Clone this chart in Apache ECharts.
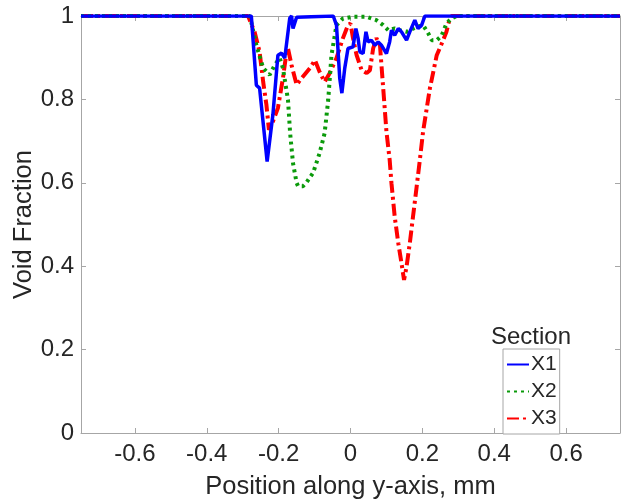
<!DOCTYPE html>
<html>
<head>
<meta charset="utf-8">
<script src="https://cdn.jsdelivr.net/npm/echarts@6/dist/echarts.min.js"></script>
<style>html,body{margin:0;padding:0;background:#fff;}#c{width:626px;height:501px;}</style>
</head>
<body>
<div id="c"></div>
<script>
const xTicks = [-0.6, -0.4, -0.2, 0, 0.2, 0.4, 0.6];
const yTicks = [0, 0.2, 0.4, 0.6, 0.8, 1];
const seriesNames = ['X1', 'X2', 'X3'];
const legendTitle = 'Section';
const xTitle = 'Position along y-axis, mm';
const yTitle = 'Void Fraction';

const x1 = [[-0.75,1],[-0.276,1],[-0.262,0.834],[-0.253,0.827],[-0.232,0.651],[-0.216,0.763],[-0.202,0.906],[-0.192,0.911],[-0.183,0.899],[-0.169,0.995],[-0.164,1],[-0.160,0.97],[-0.150,0.997],[-0.145,1],[-0.048,1],[-0.039,0.978],[-0.030,0.851],[-0.024,0.815],[-0.016,0.875],[-0.007,0.922],[0.007,0.926],[0.015,0.97],[0.021,0.947],[0.026,0.914],[0.035,0.91],[0.043,0.962],[0.049,0.938],[0.058,0.942],[0.068,0.93],[0.077,0.938],[0.086,0.93],[0.100,0.91],[0.109,0.938],[0.114,0.966],[0.123,0.954],[0.133,0.97],[0.142,0.962],[0.156,0.942],[0.165,0.962],[0.179,0.99],[0.188,0.97],[0.198,0.978],[0.207,1],[0.75,1]];

const x2 = [[-0.75,1],[-0.280,1],[-0.262,0.930],[-0.243,0.875],[-0.225,0.859],[-0.211,0.882],[-0.197,0.899],[-0.188,0.875],[-0.174,0.799],[-0.168,0.719],[-0.160,0.647],[-0.150,0.600],[-0.146,0.592],[-0.132,0.592],[-0.123,0.600],[-0.104,0.624],[-0.086,0.671],[-0.072,0.719],[-0.062,0.799],[-0.053,0.906],[-0.039,0.978],[-0.021,0.994],[0.007,0.998],[0.045,0.998],[0.072,0.990],[0.091,0.978],[0.105,0.966],[0.123,0.970],[0.137,0.966],[0.156,0.962],[0.184,0.974],[0.202,0.978],[0.216,0.959],[0.226,0.942],[0.240,0.942],[0.253,0.952],[0.267,0.982],[0.281,0.994],[0.295,1],[0.75,1]];

const x3 = [[-0.75,1],[-0.285,1],[-0.267,0.962],[-0.253,0.914],[-0.243,0.842],[-0.234,0.787],[-0.227,0.727],[-0.216,0.747],[-0.202,0.779],[-0.188,0.851],[-0.178,0.914],[-0.174,0.922],[-0.164,0.882],[-0.150,0.835],[-0.136,0.851],[-0.113,0.875],[-0.099,0.894],[-0.086,0.866],[-0.072,0.842],[-0.058,0.863],[-0.039,0.899],[-0.021,0.947],[-0.007,0.978],[0.000,0.982],[0.007,0.947],[0.017,0.906],[0.031,0.870],[0.045,0.863],[0.054,0.870],[0.063,0.922],[0.072,0.947],[0.082,0.930],[0.091,0.827],[0.100,0.723],[0.109,0.655],[0.114,0.599],[0.123,0.519],[0.133,0.455],[0.142,0.407],[0.149,0.367],[0.156,0.399],[0.165,0.455],[0.174,0.519],[0.184,0.590],[0.193,0.655],[0.202,0.723],[0.221,0.827],[0.240,0.906],[0.258,0.942],[0.267,0.962],[0.275,0.990],[0.281,1],[0.75,1]];

const FONT = 'Liberation Sans, Arial, sans-serif';
const AX = '#a6a6a6';
const TXT = '#262626';

const chart = echarts.init(document.getElementById('c'), null, {renderer: 'canvas'});

function xAx(pos, main) {
  return {
    type: 'value', position: pos, min: -0.75, max: 0.75,
    axisLine: {show: true, onZero: false, lineStyle: {color: AX, width: 1}},
    axisTick: {show: true, inside: true, length: 5, customValues: xTicks, lineStyle: {color: AX}},
    axisLabel: {show: main, customValues: xTicks, margin: 9, fontFamily: FONT, fontSize: 24, color: TXT,
      formatter: v => String(Math.round(v * 10) / 10)},
    splitLine: {show: false},
    name: main ? xTitle : '', nameLocation: 'middle', nameGap: 41, nameMoveOverlap: false,
    nameTextStyle: {fontFamily: FONT, fontSize: 25.5, color: TXT}
  };
}
function yAx(pos, main) {
  return {
    type: 'value', position: pos, min: 0, max: 1, interval: 0.2,
    axisLine: {show: true, onZero: false, lineStyle: {color: AX, width: 1}},
    axisTick: {show: true, inside: true, length: 5, lineStyle: {color: AX}},
    axisLabel: {show: main, margin: 7, fontFamily: FONT, fontSize: 24, color: TXT,
      formatter: v => String(Math.round(v * 10) / 10)},
    splitLine: {show: false},
    name: main ? yTitle : '', nameLocation: 'middle', nameGap: 44, nameMoveOverlap: false,
    nameTextStyle: {fontFamily: FONT, fontSize: 25.5, color: TXT}
  };
}

const styles = [
  {color: '#0000ff', width: 3.5, type: 'solid'},
  {color: '#0a9a0a', width: 4, type: [3, 4]},
  {color: '#ff0000', width: 4, type: [12, 4, 3, 4]}
];
const datas = [x1, x2, x3];

chart.setOption({
  animation: false,
  backgroundColor: '#ffffff',
  grid: {left: 81, right: 6, top: 16, bottom: 68, containLabel: false, outerBoundsMode: 'none'},
  xAxis: [xAx('bottom', true), xAx('top', false)],
  yAxis: [yAx('left', true), yAx('right', false)],
  legend: {
    data: seriesNames.map(n => ({name: n, itemStyle: {opacity: 0}})),
    orient: 'vertical',
    left: 503, top: 349,
    padding: [5, 3, 5, 3],
    itemWidth: 22, itemHeight: 20, itemGap: 6,
    borderColor: AX, borderWidth: 1,
    backgroundColor: '#ffffff',
    textStyle: {fontFamily: FONT, fontSize: 21, color: TXT, padding: [0, 0, 0, -3]}
  },
  graphic: [{
    type: 'text', left: 491, top: 325,
    style: {text: legendTitle, font: '24px ' + FONT, fill: TXT}
  }],
  series: seriesNames.map((n, i) => ({
    name: n, type: 'line', data: datas[i], symbol: 'none', showSymbol: false,
    lineStyle: styles[i], itemStyle: {color: styles[i].color}, z: 3 - i
  }))
});
</script>
</body>
</html>
